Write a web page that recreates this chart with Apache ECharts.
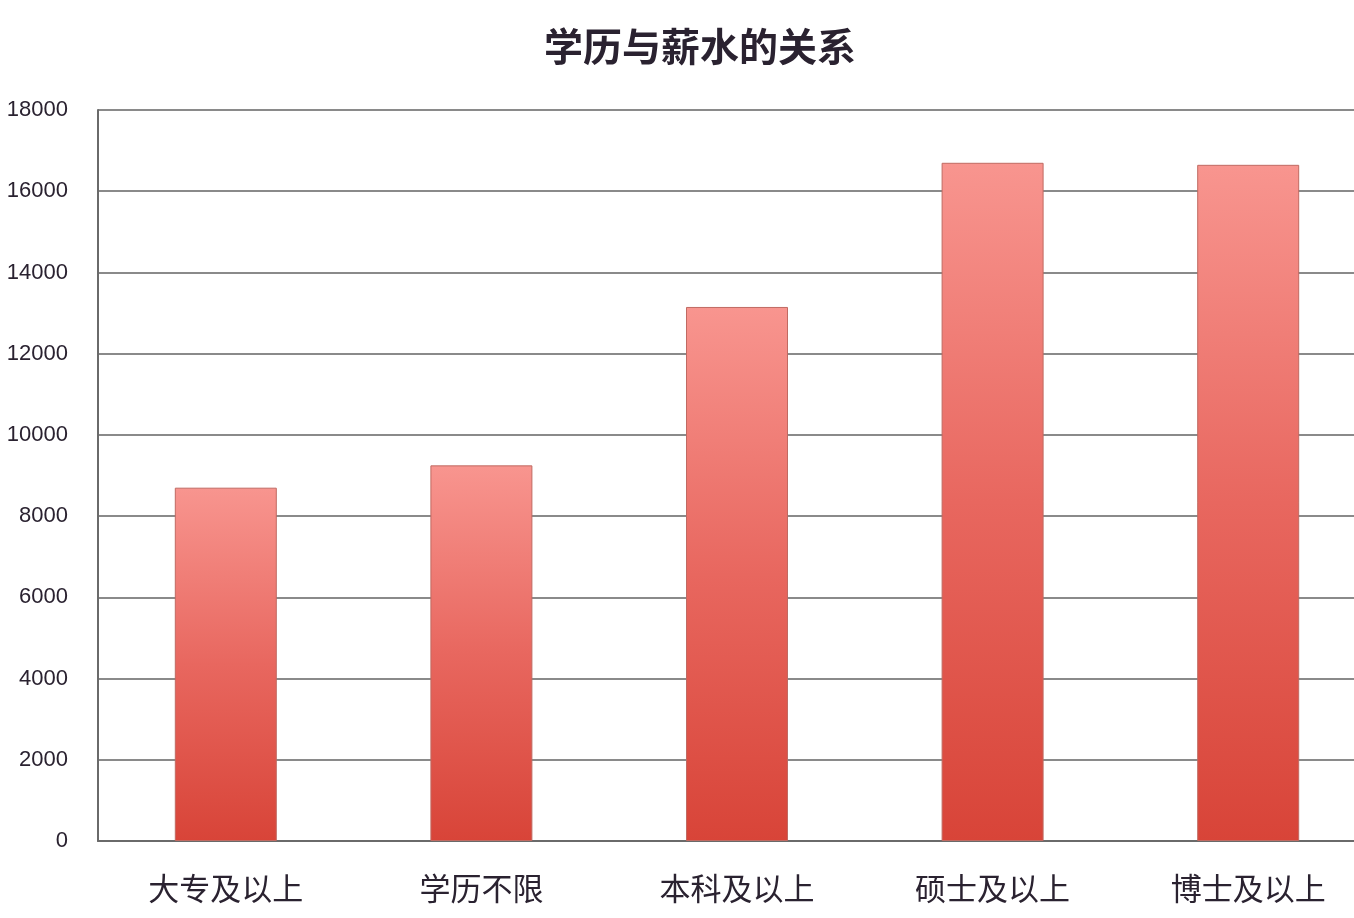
<!DOCTYPE html>
<html><head><meta charset="utf-8">
<script src="https://cdn.jsdelivr.net/npm/echarts@6/dist/echarts.min.js"></script>
<style>html,body{margin:0;padding:0;background:#fff;overflow:hidden;}#c{width:1380px;height:918px;}</style>
</head><body><div id="c"></div>
<script>
const categories = ['大专及以上','学历不限','本科及以上','硕士及以上','博士及以上'];
const salaries = [8700, 9250, 13150, 16700, 16650];
const yTicks = {min:0, max:18000, interval:2000};

const chart = echarts.init(document.getElementById('c'));
chart.setOption({
  backgroundColor:'#ffffff',
  animation:false,
  title:{text:'学历与薪水的关系', left:695, top:22, textAlign:'center',
    textStyle:{fontFamily:'Noto Sans CJK SC', fontSize:39, fontWeight:'bold', color:'#2a2230'}},
  grid:{left:98, top:110, right:4, height:731, containLabel:false},
  xAxis:{type:'category', data:categories,
    axisLine:{lineStyle:{color:'#6a6a6a', width:2}},
    axisTick:{show:false},
    axisLabel:{fontFamily:'Noto Sans CJK SC', fontSize:31, color:'#2a2230', margin:32}},
  yAxis:{type:'value', min:yTicks.min, max:yTicks.max, interval:yTicks.interval,
    axisLine:{show:true, lineStyle:{color:'#6a6a6a', width:2}},
    axisTick:{show:false},
    splitLine:{lineStyle:{color:'#8a8a8a', width:2}},
    axisLabel:{fontFamily:'Liberation Sans', fontSize:22, color:'#2a2230', margin:30,
      formatter:function(v){return String(v);}}},
  series:[{type:'bar', data:salaries, barWidth:102,
    itemStyle:{borderColor:'#c06a62', borderWidth:1,
      color:new echarts.graphic.LinearGradient(0,0,0,1,[
        {offset:0,color:'#f8958f'},{offset:0.5,color:'#e8675f'},{offset:1,color:'#d84438'}])}}]
});
</script></body></html>
